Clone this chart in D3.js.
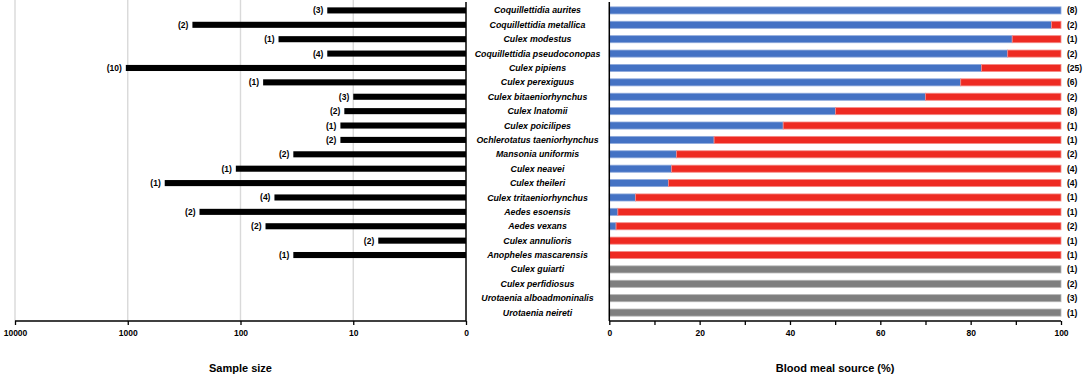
<!DOCTYPE html>
<html>
<head>
<meta charset="utf-8">
<script src="https://cdn.jsdelivr.net/npm/d3@7"></script>
<style>
  body { margin: 0; background: #fff; }
  svg { display: block; font-family: "Liberation Sans", Arial, sans-serif; }
</style>
</head>
<body>
<svg id="chart" width="1084" height="378"></svg>
<script>
// species, top to bottom
const species = [
  "Coquillettidia aurites", "Coquillettidia metallica", "Culex modestus",
  "Coquillettidia pseudoconopas", "Culex pipiens", "Culex perexiguus",
  "Culex bitaeniorhynchus", "Culex lnatomii", "Culex poicilipes",
  "Ochlerotatus taeniorhynchus", "Mansonia uniformis", "Culex neavei",
  "Culex theileri", "Culex tritaeniorhynchus", "Aedes esoensis",
  "Aedes vexans", "Culex annulioris", "Anopheles mascarensis",
  "Culex guiarti", "Culex perfidiosus", "Urotaenia alboadmoninalis", "Urotaenia neireti"
];

// left panel: sample size (log scale), null = no bar
const sampleSize = [17, 267, 46, 17, 1040, 63, 10, 12, 13, 13, 34, 110, 470, 50, 231, 60, 6, 34, null, null, null, null];
const sampleStudies = ["(3)", "(2)", "(1)", "(4)", "(10)", "(1)", "(3)", "(2)", "(1)", "(2)", "(2)", "(1)", "(1)", "(4)", "(2)", "(2)", "(2)", "(1)"];

// right panel: blue share (%) of blood meal source, null = undetermined (grey)
const blueShare = [100, 97.9, 89.2, 88.2, 82.4, 77.8, 70.0, 50.1, 38.5, 23.2, 14.9, 13.8, 13.1, 5.8, 1.9, 1.5, 0, 0, null, null, null, null];
const sourceStudies = ["(8)", "(2)", "(1)", "(2)", "(25)", "(6)", "(2)", "(8)", "(1)", "(1)", "(2)", "(4)", "(4)", "(1)", "(1)", "(2)", "(1)", "(1)", "(1)", "(2)", "(3)", "(1)"];

const leftTicks = [10000, 1000, 100, 10, 1];

const svg = d3.select("#chart");
const plotTop = 2, plotBottom = 321;

const y = d3.scaleBand()
  .domain(species)
  .range([plotTop, plotBottom])
  .paddingInner(0.55)
  .paddingOuter(0.36);

// ---- left panel ----
const xL = d3.scaleLog().domain([1, 10000]).range([466, 15]);

const gL = svg.append("g");

// grid lines
gL.selectAll("line.grid")
  .data(leftTicks.slice(0, 4))
  .join("line")
    .attr("x1", d => xL(d)).attr("x2", d => xL(d))
    .attr("y1", 0).attr("y2", plotBottom)
    .attr("stroke", "#d9d9d9")
    .attr("stroke-width", 1.4);

const leftRows = species.map((s, i) => ({ s, v: sampleSize[i], lab: sampleStudies[i] })).filter(d => d.v != null);

gL.selectAll("rect.bar")
  .data(leftRows)
  .join("rect")
    .attr("x", d => xL(d.v))
    .attr("width", d => xL(1) - xL(d.v))
    .attr("y", d => y(d.s) + 0.2)
    .attr("height", y.bandwidth() - 0.4)
    .attr("fill", "#000");

gL.selectAll("text.lab")
  .data(leftRows)
  .join("text")
    .attr("x", d => xL(d.v) - 4)
    .attr("y", d => y(d.s) + y.bandwidth() / 2)
    .attr("dy", "0.35em")
    .attr("text-anchor", "end")
    .attr("font-size", 8.5)
    .attr("font-weight", "bold")
    .text(d => d.lab);

// left axes
gL.append("line")
  .attr("x1", xL(1)).attr("x2", xL(1))
  .attr("y1", plotTop).attr("y2", plotBottom)
  .attr("stroke", "#000").attr("stroke-width", 1.5);

const axL = gL.append("g")
  .attr("transform", "translate(0," + plotBottom + ")")
  .call(d3.axisBottom(xL).tickValues(leftTicks).tickSize(4)
    .tickFormat(d => d === 1 ? "0" : String(d)));
axL.select(".domain").attr("stroke-width", 1.5).attr("d", "M" + xL(10000) + ",0H" + xL(1));
axL.selectAll(".tick line").attr("y2", 4).attr("stroke-width", 1.3);
axL.selectAll(".tick text")
  .attr("y", 9)
  .attr("font-size", 8.5)
  .attr("font-weight", "bold")
  .attr("font-family", "Liberation Sans, Arial, sans-serif");

gL.append("text")
  .attr("x", (xL(10000) + xL(1)) / 2)
  .attr("y", 372)
  .attr("text-anchor", "middle")
  .attr("font-size", 11)
  .attr("font-weight", "bold")
  .text("Sample size");

// ---- species names ----
svg.append("g").selectAll("text")
  .data(species)
  .join("text")
    .attr("x", 537.5)
    .attr("y", d => y(d) + y.bandwidth() / 2)
    .attr("dy", "0.35em")
    .attr("text-anchor", "middle")
    .attr("font-size", 8.8)
    .attr("font-weight", "bold")
    .attr("font-style", "italic")
    .text(d => d);

// ---- right panel ----
const xR = d3.scaleLinear().domain([0, 100]).range([609.3, 1061]);
const gR = svg.append("g");

const rightRows = species.map((s, i) => ({ s, b: blueShare[i], lab: sourceStudies[i] }));
const segs = [];
rightRows.forEach(d => {
  if (d.b == null) {
    segs.push({ s: d.s, x0: 0, x1: 100, c: "#7f7f7f", e: "#b3b3b3" });
  } else {
    if (d.b > 0) segs.push({ s: d.s, x0: 0, x1: d.b, c: "#4472c4", e: "#8faadc" });
    if (d.b < 100) segs.push({ s: d.s, x0: d.b, x1: 100, c: "#ee2a22", e: "#f58a86" });
  }
});

gR.selectAll("rect.seg")
  .data(segs)
  .join("rect")
    .attr("x", d => xR(d.x0))
    .attr("width", d => xR(d.x1) - xR(d.x0))
    .attr("y", d => y(d.s) - 0.3)
    .attr("height", y.bandwidth() + 0.6)
    .attr("fill", d => d.c)
    .attr("stroke", d => d.e)
    .attr("stroke-width", 0.8);

gR.selectAll("text.lab")
  .data(rightRows)
  .join("text")
    .attr("x", xR(100) + 6)
    .attr("y", d => y(d.s) + y.bandwidth() / 2)
    .attr("dy", "0.35em")
    .attr("font-size", 8.5)
    .attr("font-weight", "bold")
    .text(d => d.lab);

gR.append("line")
  .attr("x1", xR(0)).attr("x2", xR(0))
  .attr("y1", plotTop).attr("y2", plotBottom)
  .attr("stroke", "#000").attr("stroke-width", 1.5);

const axR = gR.append("g")
  .attr("transform", "translate(0," + plotBottom + ")")
  .call(d3.axisBottom(xR).ticks(10).tickSize(4)
    .tickFormat(d => d % 20 === 0 ? d : ""));
axR.select(".domain").attr("stroke-width", 1.5).attr("d", "M" + xR(0) + ",0H" + xR(100));
axR.selectAll(".tick line").attr("y2", 4).attr("stroke-width", 1.3);
axR.selectAll(".tick text")
  .attr("y", 9)
  .attr("font-size", 8.5)
  .attr("font-weight", "bold")
  .attr("font-family", "Liberation Sans, Arial, sans-serif");

gR.append("text")
  .attr("x", (xR(0) + xR(100)) / 2)
  .attr("y", 372)
  .attr("text-anchor", "middle")
  .attr("font-size", 11)
  .attr("font-weight", "bold")
  .text("Blood meal source (%)");
</script>
</body>
</html>
